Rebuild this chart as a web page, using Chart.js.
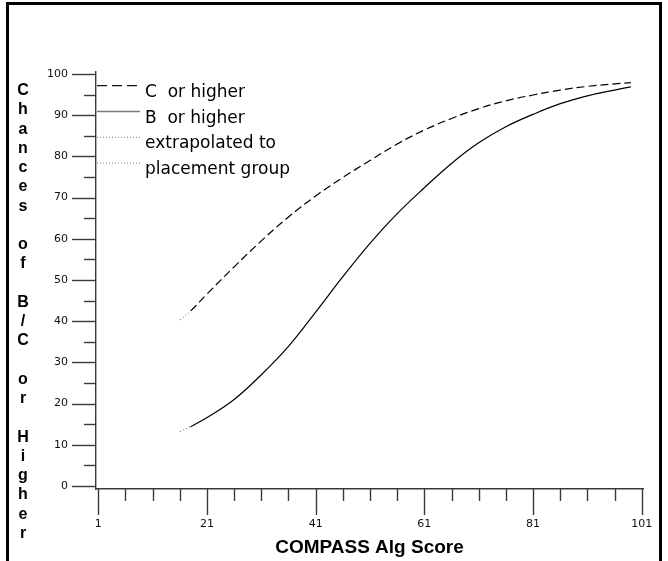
<!DOCTYPE html>
<html><head><meta charset="utf-8">
<script src="https://cdn.jsdelivr.net/npm/chart.js@4.4.0/dist/chart.umd.min.js"></script>
<style>
html,body{margin:0;padding:0;background:#fff;}
#wrap{position:relative;width:668px;height:561px;overflow:hidden;background:#fff;}
#frame{position:absolute;left:6px;top:2px;width:650px;height:600px;border:3px solid #000;border-bottom:none;pointer-events:none;}
canvas{position:absolute;left:0;top:0;}
</style></head><body>
<div id="wrap"><canvas id="c" width="668" height="561"></canvas><div id="frame"></div></div>
<script>
// ---- data ----
const scores    = [16, 18, 21, 26, 31, 36, 41, 46, 51, 56, 61, 66, 71, 76, 81, 86, 91, 96, 99];
const cOrHigher = [40.3, 42.5, 46.6, 53.2, 59.5, 65.3, 70.4, 74.9, 79.0, 83.0, 86.4, 89.2, 91.6, 93.5, 94.9, 96.1, 97.0, 97.6, 97.9];
const bOrHigher = [13.2, 14.4, 16.6, 21.0, 27.0, 33.9, 42.2, 50.8, 58.9, 66.1, 72.4, 78.3, 83.3, 87.2, 90.2, 92.8, 94.7, 96.1, 96.9];
const extrapolatedBelow = 18;
const xTickValues = [1, 6, 11, 16, 21, 26, 31, 36, 41, 46, 51, 56, 61, 66, 71, 76, 81, 86, 91, 96, 101];
const xTickLabels = ['1', '21', '41', '61', '81', '101'];
const yTickValues = [0, 5, 10, 15, 20, 25, 30, 35, 40, 45, 50, 55, 60, 65, 70, 75, 80, 85, 90, 95, 100];
const yTickLabels = ['0', '10', '20', '30', '40', '50', '60', '70', '80', '90', '100'];
const legendLabels = ['C  or higher', 'B  or higher', 'extrapolated to', 'placement group'];
const yTitle = 'Chances of B/C or Higher';
const xTitle = 'COMPASS Alg Score';

// ---- styles ----
const AXIS_COLOR = '#3a3a3a';
const legendStyles = [
  {dash: [10, 5], color: '#111', width: 1.2},
  {dash: [], color: '#7a7a7a', width: 1.6},
  {dash: [1, 2], color: '#777', width: 1},
  {dash: [1, 2], color: '#777', width: 1}
];

const tickMarks = {
  id: 'tickMarks',
  afterDraw(chart) {
    const {ctx, chartArea, scales} = chart;
    ctx.save();
    ctx.strokeStyle = AXIS_COLOR;
    ctx.lineWidth = 1.4;
    const xs = scales.x;
    xTickValues.forEach(v => {
      const px = Math.round(xs.getPixelForValue(v)) + 0.5;
      const major = xTickLabels.includes(String(v));
      ctx.beginPath();
      ctx.moveTo(px, chartArea.bottom);
      ctx.lineTo(px, chartArea.bottom + (major ? 26 : 12));
      ctx.stroke();
    });
    const ys = scales.y;
    yTickValues.forEach(v => {
      const py = Math.round(ys.getPixelForValue(v)) + 0.5;
      const major = yTickLabels.includes(String(v));
      ctx.beginPath();
      ctx.moveTo(chartArea.left, py);
      ctx.lineTo(chartArea.left - (major ? 24 : 12), py);
      ctx.stroke();
    });
    ctx.restore();
  }
};

const stackedTitle = {
  id: 'stackedTitle',
  afterDraw(chart) {
    const {ctx} = chart;
    ctx.save();
    ctx.font = 'bold 16px "Liberation Sans", Arial, sans-serif';
    ctx.fillStyle = '#000';
    ctx.textAlign = 'center';
    ctx.textBaseline = 'alphabetic';
    yTitle.split('').forEach((ch, i) => {
      if (ch !== ' ') ctx.fillText(ch, 23, 95 + i * 19.26);
    });
    ctx.restore();
  }
};

const innerLegend = {
  id: 'innerLegend',
  afterDraw(chart) {
    const {ctx, chartArea} = chart;
    ctx.save();
    ctx.font = '17px "DejaVu Sans"';
    ctx.fillStyle = '#000';
    ctx.textBaseline = 'alphabetic';
    legendLabels.forEach((lab, i) => {
      const base = 96.7 + i * 25.8;
      const st = legendStyles[i];
      ctx.save();
      ctx.strokeStyle = st.color;
      ctx.lineWidth = st.width;
      ctx.setLineDash(st.dash);
      ctx.beginPath();
      ctx.moveTo(chartArea.left + 1, base - 11);
      ctx.lineTo(chartArea.left + 44, base - 11);
      ctx.stroke();
      ctx.restore();
      ctx.fillText(lab, 145, base);
    });
    ctx.restore();
  }
};

const extrapSeg = (baseDash) => ({
  borderDash: c => c.p0.parsed.x < extrapolatedBelow ? [1, 2.5] : baseDash,
  borderColor: c => c.p0.parsed.x < extrapolatedBelow ? '#888' : '#000'
});

new Chart(document.getElementById('c'), {
  type: 'line',
  data: {
    datasets: [
      {label: legendLabels[0], data: scores.map((x, i) => ({x, y: cOrHigher[i]})),
       borderColor: '#000', borderWidth: 1.2, borderDash: [8, 4], pointRadius: 0,
       tension: 0.4, segment: extrapSeg([8, 4])},
      {label: legendLabels[1], data: scores.map((x, i) => ({x, y: bOrHigher[i]})),
       borderColor: '#000', borderWidth: 1.2, pointRadius: 0,
       tension: 0.4, segment: extrapSeg([])}
    ]
  },
  options: {
    responsive: false,
    animation: false,
    events: [],
    layout: {padding: {left: 0, top: 72, right: 25, bottom: 0}},
    plugins: {legend: {display: false}, tooltip: {enabled: false}, title: {display: false}},
    scales: {
      x: {
        type: 'linear', min: 0.576, max: 101.24,
        afterBuildTicks: s => { s.ticks = xTickValues.map(v => ({value: v})); },
        afterFit: s => { s.height = 72; },
        border: {display: true, color: AXIS_COLOR, width: 1.4},
        grid: {display: true, drawOnChartArea: false, drawTicks: true, tickLength: 26, tickColor: 'rgba(0,0,0,0)'},
        ticks: {
          autoSkip: false, maxRotation: 0, padding: 3,
          font: {family: 'DejaVu Sans', size: 11}, color: '#111',
          callback: v => xTickLabels.includes(String(v)) ? String(v) : ''
        },
        title: {display: true, text: xTitle, color: '#000', padding: {top: 0, bottom: 2},
                font: {family: 'Liberation Sans', size: 19, weight: 'bold'}}
      },
      y: {
        type: 'linear', min: -0.73, max: 100.49,
        afterBuildTicks: s => { s.ticks = yTickValues.map(v => ({value: v})); },
        afterFit: s => { s.width = 96; },
        border: {display: true, color: AXIS_COLOR, width: 1.4},
        grid: {display: true, drawOnChartArea: false, drawTicks: true, tickLength: 24, tickColor: 'rgba(0,0,0,0)'},
        ticks: {
          autoSkip: false, padding: 4,
          font: {family: 'DejaVu Sans', size: 11}, color: '#111',
          callback: v => yTickLabels.includes(String(v)) ? String(v) : ''
        },
        title: {display: false}
      }
    }
  },
  plugins: [tickMarks, stackedTitle, innerLegend]
});
</script>
</body></html>
